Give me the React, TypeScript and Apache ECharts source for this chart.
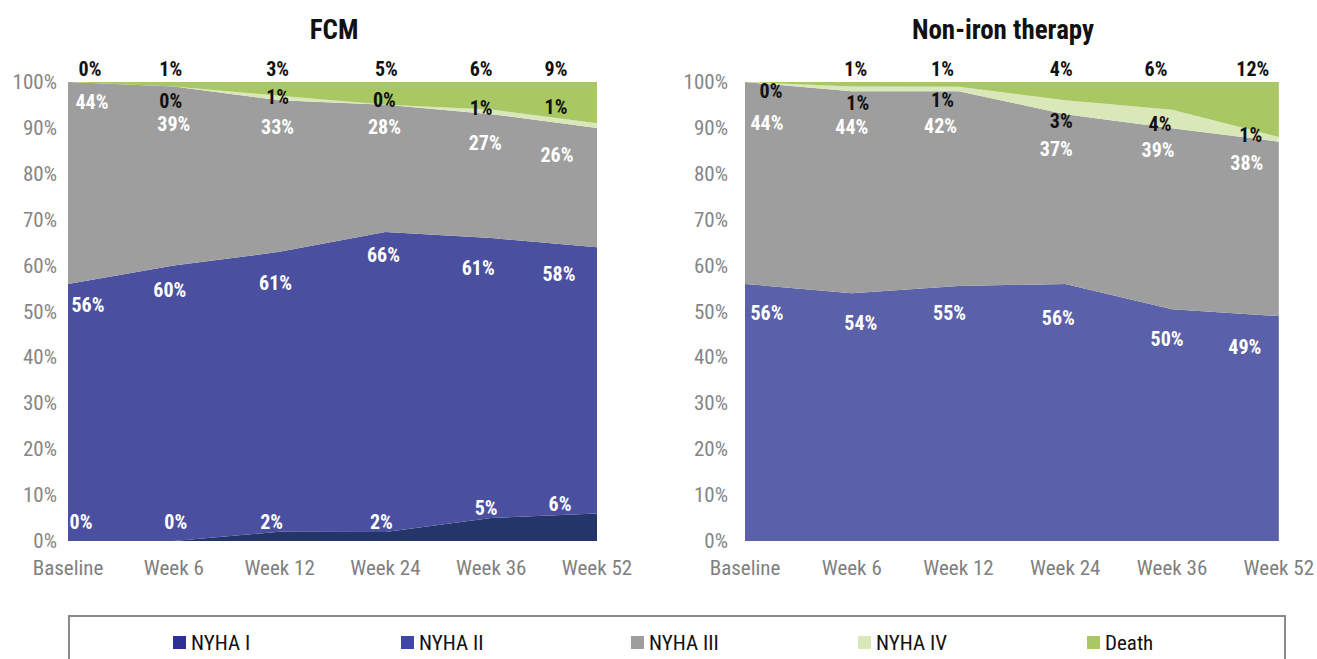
import React, { useEffect, useRef } from 'react';
import * as echarts from 'echarts';

// ---------------- DATA ----------------
const categories = ['Baseline', 'Week 6', 'Week 12', 'Week 24', 'Week 36', 'Week 52'];
const seriesNames = ['NYHA I', 'NYHA II', 'NYHA III', 'NYHA IV', 'Death'];

// FCM (%)
const fcmNyhaI = [0, 0, 2, 2, 5, 6];
const fcmNyhaII = [56, 60, 61, 66, 61, 58];
const fcmNyhaIII = [44, 39, 33, 28, 27, 26];
const fcmNyhaIV = [0, 0, 1, 0, 1, 1];
const fcmDeath = [0, 1, 3, 5, 6, 9];

// Non-iron therapy (%)
const nonNyhaI = [0, 0, 0, 0, 0, 0];
const nonNyhaII = [56, 54, 55, 56, 50, 49];
const nonNyhaIII = [44, 44, 42, 37, 39, 38];
const nonNyhaIV = [0, 1, 1, 3, 4, 1];
const nonDeath = [0, 1, 1, 4, 6, 12];

const yMin = 0;
const yMax = 100;
const yStep = 10;

// ---------------- STYLE ----------------
const FONT = "'Roboto Condensed', Roboto, sans-serif";

const fcmColors = ['#24356a', '#4a509f', '#9e9e9e', '#d9e7b9', '#a9c763'];
const nonColors = ['#24356a', '#5a61a9', '#9e9e9e', '#d9e7b9', '#a9c763'];
const legendColors = ['#2e3192', '#3e46a6', '#9e9e9e', '#d9e7b9', '#a9c763'];
const labelColors = ['#ffffff', '#ffffff', '#ffffff', '#111111', '#111111'];

type LabelCfg = { show: number[]; dx: number[]; dy: number[] };

// label nudges (pixels, relative to the stacked point of each series)
const fcmLabelCfg: LabelCfg[] = [
  { show: [1, 1, 1, 1, 1, 1], dx: [13, 2, -8, -4, -5, -37], dy: [-19, -19, -10, -10, -10, -9] },
  { show: [1, 1, 1, 1, 1, 1], dx: [20, -4, -4, -2, -13, -38], dy: [21, 24, 31, 23, 30, 27] },
  { show: [1, 1, 1, 1, 1, 1], dx: [24, 0, -2, -1, -6, -40], dy: [20, 37, 27, 22, 29, 27] },
  { show: [0, 1, 1, 1, 1, 1], dx: [0, -3, -2, -1, -10, -41], dy: [0, 14, 1, -5, -2, -16] },
  { show: [1, 1, 1, 1, 1, 1], dx: [22, -3, -2, 1, -10, -41], dy: [-13, -13, -13, -13, -13, -13] },
];
const nonLabelCfg: LabelCfg[] = [
  { show: [0, 0, 0, 0, 0, 0], dx: [0, 0, 0, 0, 0, 0], dy: [0, 0, 0, 0, 0, 0] },
  { show: [1, 1, 1, 1, 1, 1], dx: [22, 9, -9, -7, -5, -34], dy: [29, 30, 27, 34, 30, 31] },
  { show: [1, 1, 1, 1, 1, 1], dx: [22, 0, -18, -9, -14, -32], dy: [41, 36, 35, 35, 22, 21] },
  { show: [1, 1, 1, 1, 1, 1], dx: [26, 6, -16, -4, -12, -28], dy: [9, 16, 13, 21, 14, -2] },
  { show: [0, 1, 1, 1, 1, 1], dx: [0, 4, -16, -4, -16, -26], dy: [-13, -13, -13, -13, -13, -13] },
];

function buildSeries(gridIdx: number, values: number[][], colors: string[], cfg: LabelCfg[]) {
  const totals = categories.map((_, i) => values.reduce((s, arr) => s + arr[i], 0));
  return seriesNames.map((name, k) => ({
    type: 'line',
    name,
    xAxisIndex: gridIdx,
    yAxisIndex: gridIdx,
    stack: 'total' + gridIdx,
    symbol: 'circle',
    symbolSize: 0,
    showSymbol: true,
    lineStyle: { width: 0, color: colors[k] },
    areaStyle: { color: colors[k], opacity: 1 },
    itemStyle: { color: colors[k] },
    emphasis: { disabled: true },
    z: 2,
    label: {
      show: true,
      position: 'inside',
      color: labelColors[k],
      fontWeight: 'bold',
      fontSize: 20,
      lineHeight: 20,
      fontFamily: FONT,
      formatter: (p: any) => values[k][p.dataIndex] + '%',
    },
    data: values[k].map((v, i) => ({
      value: (v * 100) / totals[i],
      label: { show: !!cfg[k].show[i], offset: [cfg[k].dx[i], cfg[k].dy[i]] },
    })),
  }));
}

function axisPair(left: number, right: number, labelMargin: number) {
  return {
    grid: { left, right, top: 82, bottom: 118, containLabel: false },
    x: {
      type: 'category',
      boundaryGap: false,
      data: categories,
      axisLine: { show: false },
      axisTick: { show: false },
      axisLabel: { interval: 0, color: '#7f7f7f', fontSize: 21, fontFamily: FONT, margin: 16 },
      splitLine: { show: false },
    },
    y: {
      type: 'value',
      min: yMin,
      max: yMax,
      interval: yStep,
      axisLine: { show: false },
      axisTick: { show: false },
      splitLine: { show: false },
      axisLabel: { formatter: '{value}%', color: '#858585', fontSize: 21, fontFamily: FONT, margin: labelMargin },
    },
  };
}

const legendLefts = [173, 401, 631, 858, 1087];

export default function App() {
  const ref = useRef<HTMLDivElement>(null);
  useEffect(() => {
    if (!ref.current) return;
    const chart = echarts.init(ref.current, undefined, { renderer: 'svg' });
    const a = axisPair(68, 720, 11);
    const b = axisPair(745, 32, 17);
    const option: any = {
      animation: false,
      backgroundColor: '#ffffff',
      textStyle: { fontFamily: FONT },
      grid: [a.grid, b.grid],
      xAxis: [{ ...a.x, gridIndex: 0 }, { ...b.x, gridIndex: 1 }],
      yAxis: [{ ...a.y, gridIndex: 0 }, { ...b.y, gridIndex: 1 }],
      legend: seriesNames.map((name, k) => ({
        left: legendLefts[k],
        top: 632,
        padding: 0,
        icon: 'rect',
        itemWidth: 13,
        itemHeight: 13,
        textStyle: { color: '#111', fontSize: 21, fontFamily: FONT },
        data: [{ name, itemStyle: { color: legendColors[k] } }],
      })),
      graphic: [
        {
          type: 'text',
          x: 334,
          y: 30,
          style: { text: 'FCM', fill: '#111', font: `bold 27px ${FONT}`, textAlign: 'center', textVerticalAlign: 'middle' },
        },
        {
          type: 'text',
          x: 1003,
          y: 30,
          style: { text: 'Non-iron therapy', fill: '#111', font: `bold 27px ${FONT}`, textAlign: 'center', textVerticalAlign: 'middle' },
        },
        {
          type: 'rect',
          shape: { x: 69, y: 616, width: 1216, height: 80 },
          style: { fill: 'none', stroke: '#8a8a8a', lineWidth: 2 },
        },
      ],
      series: [
        ...buildSeries(0, [fcmNyhaI, fcmNyhaII, fcmNyhaIII, fcmNyhaIV, fcmDeath], fcmColors, fcmLabelCfg),
        ...buildSeries(1, [nonNyhaI, nonNyhaII, nonNyhaIII, nonNyhaIV, nonDeath], nonColors, nonLabelCfg),
      ],
    };
    chart.setOption(option);
    return () => chart.dispose();
  }, []);
  return <div ref={ref} style={{ position: 'fixed', left: 0, top: 0, width: 1317, height: 659 }} />;
}
